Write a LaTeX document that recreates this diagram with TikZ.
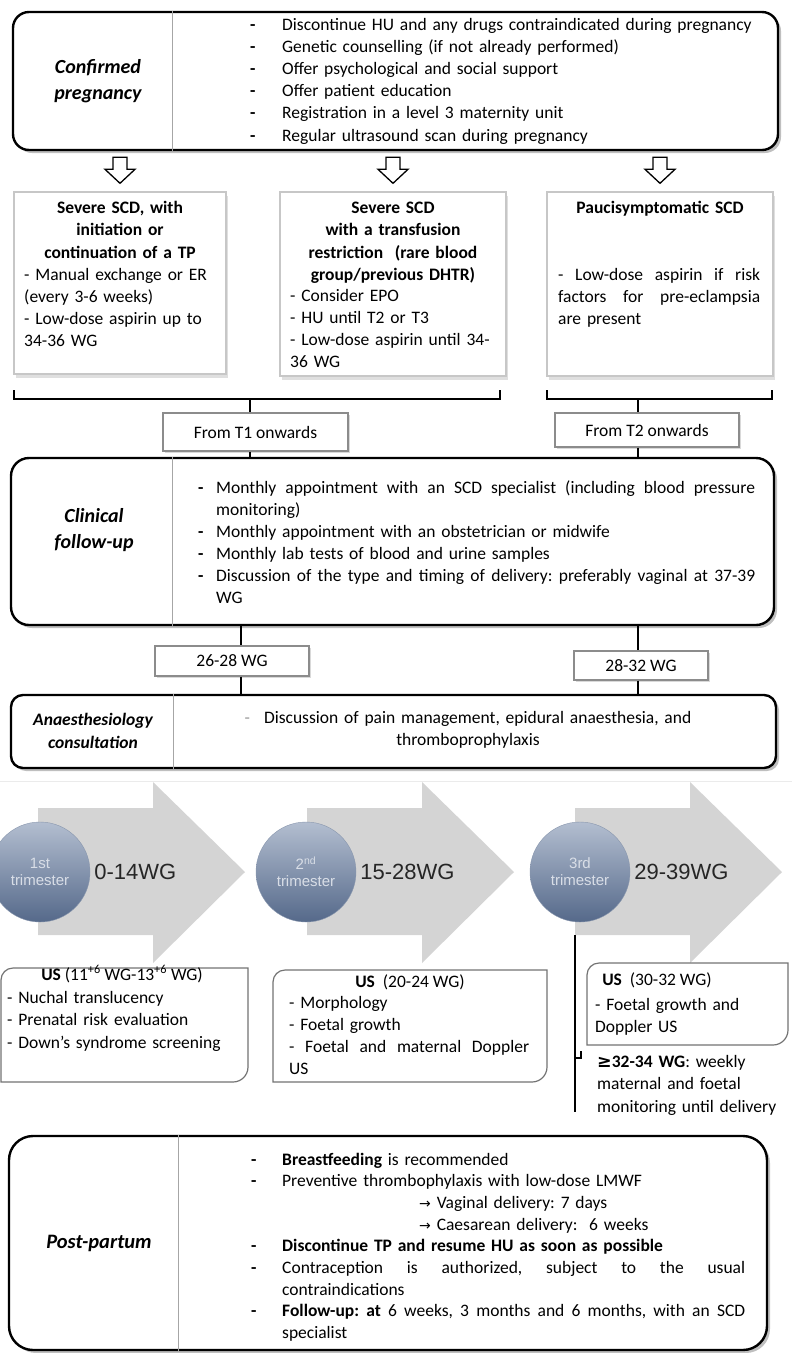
\documentclass[tikz,border=0pt]{standalone}
\usepackage{fontspec}
\setmainfont{Carlito}
\newfontfamily\arialfont{Liberation Sans}
\newfontfamily\arrowfont{DejaVu Sans}
\usepackage{tikz}
\usetikzlibrary{shadows}
\definecolor{trtop}{HTML}{B3BED0}
\definecolor{trbot}{HTML}{55698A}
\definecolor{trtext}{HTML}{D9DEE7}
\frenchspacing
\newcommand{\dashitem}[2][32pt]{\makebox[#1][l]{\textbf{-}}#2}
\newcommand{\fillline}[2]{\makebox[#1][s]{\spaceskip=0.23em plus 1fil\xspaceskip=0.23em plus 1fil\relax #2}}

\begin{document}
\begin{tikzpicture}[x=1pt, y=1pt, font=\fontsize{17.5}{22}\selectfont]
\tikzstyle{bigbox}=[draw, line width=2.4pt, fill=white, drop shadow={shadow xshift=3pt, shadow yshift=-3pt, opacity=0.5}]
\tikzstyle{midbox}=[draw=black!22, line width=1.4pt, fill=white, drop shadow={shadow xshift=2pt, shadow yshift=-4pt, opacity=0.25}]
\tikzstyle{tagbox}=[draw=black!45, line width=1.1pt, fill=white, inner sep=0pt, drop shadow={shadow xshift=1.5pt, shadow yshift=-2pt, opacity=0.3}]
\tikzstyle{sidetitle}=[font=\fontsize{20}{26}\selectfont\bfseries\itshape, align=center, inner sep=0pt]
\tikzstyle{boxtitle}=[anchor=base, align=center, text width=220pt, inner sep=0pt, font=\fontsize{17.5}{22.5}\selectfont\bfseries]
\tikzstyle{listtext}=[anchor=base west, inner sep=0pt, align=left, text width=250pt]
\tikzstyle{divider}=[draw=black!35, line width=0.8pt]
\tikzstyle{stem}=[line width=2pt]
\tikzstyle{openarrow}=[draw, line width=1.3pt, fill=white]
\tikzstyle{trarrow}=[fill=black!17]
\tikzstyle{trimester}=[circle, minimum size=100pt, inner sep=0pt, top color=trtop, bottom color=trbot, draw=trbot!70, align=center, text=trtext, font=\arialfont\fontsize{15}{17}\selectfont]
\tikzstyle{wglabel}=[anchor=west, inner sep=4pt, text=black!85, font=\arialfont\fontsize{22}{26}\selectfont]
\tikzstyle{usline}=[draw=black!55, line width=1.2pt, fill=white]

\useasboundingbox (0,0) rectangle (792,-1353);

% confirmed pregnancy
\node[bigbox, rounded corners=16pt, minimum width=765pt, minimum height=138pt] (cp) at (395.5,-81) {};
\draw[divider] ([xshift=161pt]cp.north west) -- ([xshift=161pt]cp.south west);
\node[sidetitle] (cptitle) at (98,-81) {Confirmed\\pregnancy};
\node[listtext, text width=520pt, font=\fontsize{17.5}{22.2}\selectfont] (cplist) at (250,-30) {
\dashitem{Discontinue HU and any drugs contraindicated during pregnancy}\\
\dashitem{Genetic counselling (if not already performed)}\\
\dashitem{Offer psychological and social support}\\
\dashitem{Offer patient education}\\
\dashitem{Registration in a level 3 maternity unit}\\
\dashitem{Regular ultrasound scan during pregnancy}};

% three groups
\node[midbox, minimum width=212pt, minimum height=182pt] (b1) at (120,-283) {};
\node[midbox, minimum width=226pt, minimum height=184pt] (b2) at (393,-284) {};
\node[midbox, minimum width=226pt, minimum height=184pt] (b3) at (660,-284) {};
\foreach \b in {b1,b2,b3}
  \draw[openarrow, shift={(\b.north)}] (-7,34) -- (7,34) -- (7,22) -- (15,22) -- (0,8) -- (-15,22) -- (-7,22) -- cycle;

\node[boxtitle] (b1title) at (120,-213) {Severe SCD, with\\initiation or\\continuation of a TP};
\node[listtext] (b1list) at (24,-280) {- Manual exchange or ER\\(every 3-6 weeks)\\- Low-dose aspirin up to\\34-36 WG};
\node[boxtitle] (b2title) at (393,-213) {Severe SCD\\with a transfusion\\restriction~~(rare blood\\group/previous DHTR)};
\node[listtext] (b2list) at (290,-301) {- Consider EPO\\- HU until T2 or T3\\- Low-dose aspirin until 34-\\36 WG};
\node[boxtitle] (b3title) at (660,-213) {Paucisymptomatic SCD};
\node[listtext] (b3list) at (558,-280) {\fillline{202pt}{- Low-dose aspirin if risk}\\\fillline{202pt}{factors for pre-eclampsia}\\are present};

% brackets and start times
\coordinate (lbr) at (250,-399);
\coordinate (rbr) at (638,-399);
\draw[stem] (14,-390) |- (500,-399) -- (500,-390);
\draw[stem] (547,-390) |- (772,-399) -- (772,-390);
\node[tagbox, minimum width=185pt, minimum height=38pt] (t1) at (255.5,-432) {From T1 onwards};
\node[tagbox, minimum width=184pt, minimum height=34pt] (t2) at (647,-430) {From T2 onwards};

% clinical follow-up
\node[bigbox, rounded corners=18pt, minimum width=763pt, minimum height=167pt] (cf) at (392.5,-541.5) {};
\draw[divider] ([xshift=163pt]cf.north west) -- ([xshift=163pt]cf.south west);
\node[sidetitle] (cftitle) at (94,-530) {Clinical\\follow-up};
\node[listtext, text width=560pt] (cflist) at (198,-493) {
\dashitem[18pt]{\fillline{539pt}{Monthly appointment with an SCD specialist (including blood pressure}}\\
\hspace*{18pt}monitoring)\\
\dashitem[18pt]{Monthly appointment with an obstetrician or midwife}\\
\dashitem[18pt]{Monthly lab tests of blood and urine samples}\\
\dashitem[18pt]{\fillline{539pt}{Discussion of the type and timing of delivery: preferably vaginal at 37-39}}\\
\hspace*{18pt}WG};
\draw[stem] (lbr) -- (t1.north -| lbr);
\draw[stem] (t1.south -| lbr) -- (cf.north -| lbr);
\draw[stem] (rbr) -- (t2.north -| rbr);
\draw[stem] (t2.south -| rbr) -- (cf.north -| rbr);

% anaesthesiology
\coordinate (lst) at (241,-640);
\node[tagbox, minimum width=154pt, minimum height=30pt] (w1) at (232,-661) {26-28 WG};
\node[tagbox, minimum width=134pt, minimum height=29pt] (w2) at (641,-665.5) {28-32 WG};
\node[bigbox, rounded corners=12pt, minimum width=765pt, minimum height=73pt] (an) at (393.5,-731.5) {};
\draw[divider] ([xshift=164pt]an.north west) -- ([xshift=164pt]an.south west);
\node[sidetitle, font=\fontsize{17.5}{23}\selectfont\bfseries\itshape] (antitle) at (93,-731) {Anaesthesiology\\consultation};
\node[anchor=base, align=center, text width=600pt, inner sep=0pt] (antext) at (468,-723) {{\color{black!40}-}\hspace{14pt}Discussion of pain management, epidural anaesthesia, and\\thromboprophylaxis};
\draw[stem] (cf.south -| lst) -- (w1.north -| lst);
\draw[stem] (w1.south -| lst) -- (an.north -| lst);
\draw[stem] (cf.south -| rbr) -- (w2.north -| rbr);
\draw[stem] (w2.south -| rbr) -- (an.north -| rbr);

\draw[black!8, line width=1pt] (0,-781) -- (792,-781);

% trimesters
\foreach \x in {38,307,575}
  \fill[trarrow] (\x,-808) -- (\x+115,-808) -- (\x+115,-782) -- (\x+207,-872) -- (\x+115,-963) -- (\x+115,-935) -- (\x,-935) -- cycle;
\node[trimester] (tr1) at (40,-872) {1st\\trimester};
\node[trimester] (tr2) at (306,-872) {2\textsuperscript{nd}\\trimester};
\node[trimester] (tr3) at (580,-872) {3rd\\trimester};
\node[wglabel] (wg1) at (tr1.east) {0-14WG};
\node[wglabel] (wg2) at (tr2.east) {15-28WG};
\node[wglabel] (wg3) at (tr3.east) {29-39WG};

% ultrasound scans
\coordinate (vtop) at (575,-935);
\coordinate (vbot) at (575,-1112);
\coordinate (vtick) at (575,-1058);
\draw[line width=1.2pt] (vtop) -- (vbot);
\draw[line width=1.2pt] (vtick) -- ++(6,0) -- ++(0,7);
\draw[usline] (248,-968) -- (13,-968) arc[start angle=90, end angle=180, radius=12pt] -- (1,-1082) -- (233,-1082) arc[start angle=270, end angle=360, radius=15pt] -- cycle;
\draw[usline] (547,-970) -- (285,-970) arc[start angle=90, end angle=180, radius=12pt] -- (273,-1082) -- (532,-1082) arc[start angle=270, end angle=360, radius=15pt] -- cycle;
\draw[usline] (788,-963) -- (599,-963) arc[start angle=90, end angle=180, radius=12pt] -- (587,-1045) -- (773,-1045) arc[start angle=270, end angle=360, radius=15pt] -- cycle;
\node[anchor=base, inner sep=0pt] (us1title) at (122,-980) {\textbf{US} (11\textsuperscript{+6} WG-13\textsuperscript{+6} WG)};
\node[listtext, font=\fontsize{17.5}{22.5}\selectfont] (us1list) at (7,-1003) {- Nuchal translucency\\- Prenatal risk evaluation\\- Down’s syndrome screening};
\node[anchor=base, inner sep=0pt] (us2title) at (410,-987) {\textbf{US}~ (20-24 WG)};
\node[listtext, font=\fontsize{17.5}{22}\selectfont] (us2list) at (289,-1008) {- Morphology\\- Foetal growth\\\fillline{240pt}{- Foetal and maternal Doppler}\\US};
\node[anchor=base, inner sep=0pt] (us3title) at (657,-985) {\textbf{US}~ (30-32 WG)};
\node[listtext] (us3list) at (595,-1010) {- Foetal growth and\\Doppler US};
\node[listtext, font=\fontsize{17.5}{22.5}\selectfont] (latecheck) at (597,-1067) {\textbf{{\arrowfont ≥}32-34 WG}: weekly\\maternal and foetal\\monitoring until delivery};

% post-partum
\node[bigbox, rounded corners=24pt, minimum width=758pt, minimum height=214pt] (pp) at (388,-1243) {};
\draw[divider] ([xshift=171pt]pp.north west) -- ([xshift=171pt]pp.south west);
\node[sidetitle, font=\fontsize{20.5}{26}\selectfont\bfseries\itshape] (pptitle) at (99,-1243) {Post-partum};
\node[listtext, text width=510pt, font=\fontsize{17.5}{21.7}\selectfont] (pplist) at (251,-1165) {
\dashitem[31pt]{\textbf{Breastfeeding} is recommended}\\
\dashitem[31pt]{Preventive thrombophylaxis with low-dose LMWF}\\
\hspace*{168pt}{\arrowfont\fontsize{14}{14}\selectfont →} Vaginal delivery: 7 days\\
\hspace*{168pt}{\arrowfont\fontsize{14}{14}\selectfont →} Caesarean delivery:~ 6 weeks\\
\dashitem[31pt]{\textbf{Discontinue TP and resume HU as soon as possible}}\\
\dashitem[31pt]{\fillline{463pt}{Contraception is authorized, subject to the usual}}\\
\hspace*{31pt}contraindications\\
\dashitem[31pt]{\fillline{463pt}{\textbf{Follow-up: at} 6 weeks, 3 months and 6 months, with an SCD}}\\
\hspace*{31pt}specialist};
\end{tikzpicture}
\end{document}
